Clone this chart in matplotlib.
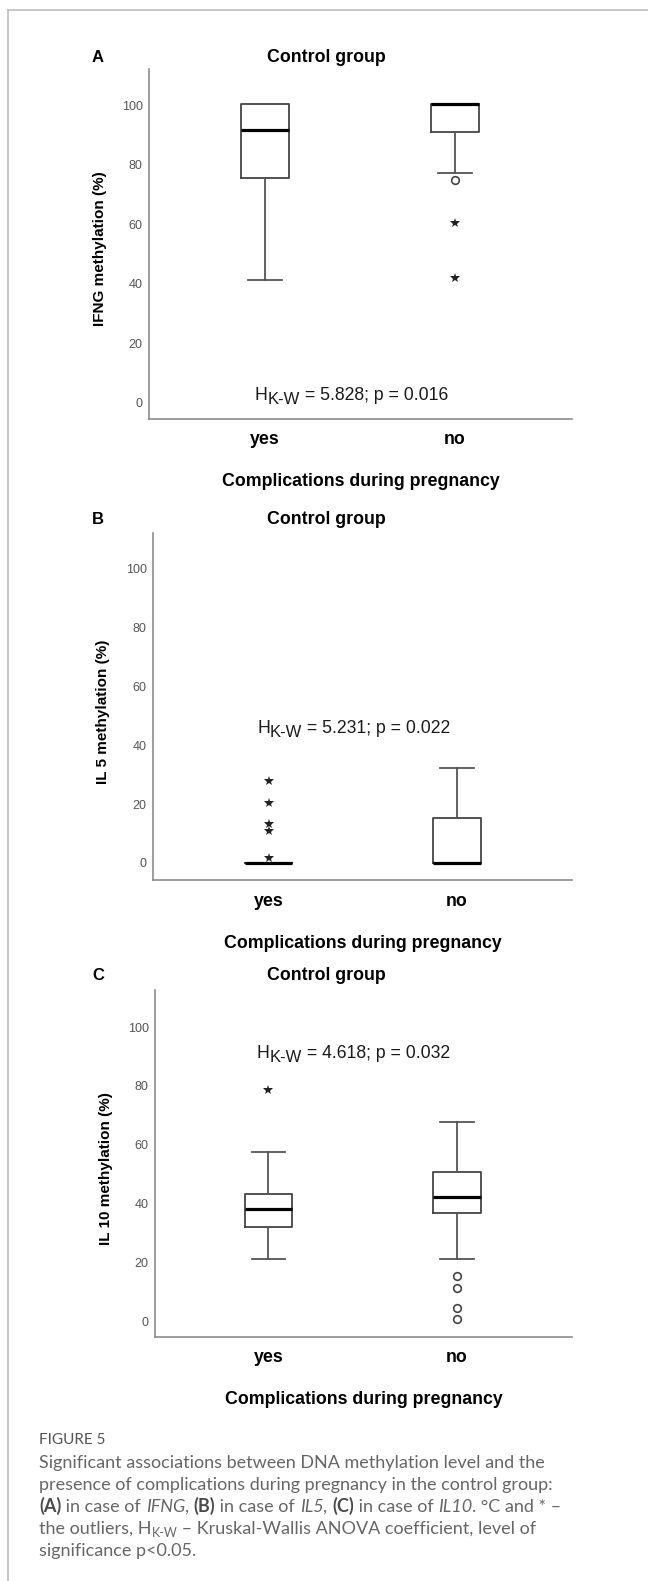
import matplotlib.pyplot as plt
from matplotlib.transforms import IdentityTransform

plt.rcParams['font.family'] = ['Liberation Sans', 'DejaVu Sans']

# ---- data ----
groups = ['yes', 'no']

ifng_whislo = [41.3, 77.2]
ifng_q1 = [75.5, 91.0]
ifng_med = [91.6, 100.3]
ifng_q3 = [100.5, 100.5]
ifng_whishi = [100.5, 100.5]
ifng_circles = [[], [74.8]]
ifng_stars = [[], [60.4, 42.0]]

il5_whislo = [0.0, 0.0]
il5_q1 = [0.0, 0.0]
il5_med = [0.0, 0.0]
il5_q3 = [0.0, 15.3]
il5_whishi = [0.0, 32.3]
il5_circles = [[], []]
il5_stars = [[27.9, 20.3, 13.2, 10.7, 1.6], []]

il10_whislo = [21.1, 21.1]
il10_q1 = [32.0, 36.7]
il10_med = [38.1, 42.2]
il10_q3 = [43.2, 50.7]
il10_whishi = [57.5, 67.7]
il10_circles = [[], [15.3, 11.2, 4.4, 0.7]]
il10_stars = [[78.6], []]

ytick_vals = [0, 20, 40, 60, 80, 100]

W, H = 648, 1581
fig = plt.figure(figsize=(W / 100, H / 100), dpi=100)
renderer = fig.canvas.get_renderer()


def text_w(s, **props):
    t = fig.text(0, 0, s, **props)
    w = t.get_window_extent(renderer).width
    t.remove()
    return w


def seg_w(s, **props):
    return text_w('|' + s + '|', **props) - text_w('||', **props)


def rich(x, y, parts, **common):
    # x, y in pixels from the top-left corner, y is the baseline, dy shifts down
    for s, props, dy in parts:
        kw = dict(common)
        kw.update(props)
        fig.text(x, H - y - dy, s, transform=IdentityTransform(), va='baseline', **kw)
        x += seg_w(s, **kw)


def px_axes(left, right, top, bottom):
    return fig.add_axes([left / W, 1 - bottom / H, (right - left) / W, (bottom - top) / H])


def panel(box, ylim, xlim, stats, circles, stars, ylabel, letter, stat_txt, txt_xy,
          ylab_x, title_y):
    left, right, top, bottom = box
    ax = px_axes(left, right, top, bottom)
    whislo, q1, med, q3, whishi = stats
    bstats = []
    for i, g in enumerate(groups):
        bstats.append(dict(label=g, whislo=whislo[i], q1=q1[i], med=med[i],
                           q3=q3[i], whishi=whishi[i], fliers=[]))
    ax.bxp(bstats, positions=[1, 2], widths=0.25, capwidths=0.18, showfliers=False,
           boxprops=dict(color='#444444', linewidth=1.3),
           whiskerprops=dict(color='#555555', linewidth=1.3),
           capprops=dict(color='#555555', linewidth=1.3),
           medianprops=dict(color='black', linewidth=2.3))
    for i in range(2):
        if circles[i]:
            ax.plot([i + 1] * len(circles[i]), circles[i], 'o', ms=5.5, mfc='white',
                    mec='#444444', mew=1.2, zorder=4)
        if stars[i]:
            ax.plot([i + 1] * len(stars[i]), stars[i], '*', ms=7, color='#222222',
                    mew=0, zorder=4)
    ax.set_xlim(*xlim)
    ax.set_ylim(*ylim)
    ax.set_yticks(ytick_vals)
    ax.tick_params(axis='y', length=0, pad=4.5, labelsize=9, labelcolor='#555555')
    ax.tick_params(axis='x', length=0, pad=9, labelsize=12.8)
    ax.set_xticks([1, 2])
    ax.set_xticklabels(groups, fontweight='bold')
    for s in ['top', 'right']:
        ax.spines[s].set_visible(False)
    for s in ['left', 'bottom']:
        ax.spines[s].set_color('#8c8c8c')
        ax.spines[s].set_linewidth(1.2)
    ax.set_xlabel('Complications during pregnancy', fontsize=12.8, fontweight='bold', labelpad=18)
    # y label
    fig.text(ylab_x / W, 1 - ((top + bottom) / 2 + 5) / H, ylabel, rotation=90,
             ha='center', va='center', fontsize=11, fontweight='bold')
    # panel letter and title
    fig.text(98 / W, 1 - title_y / H, letter, ha='center', va='center',
             fontsize=12, fontweight='bold')
    fig.text(326 / W, 1 - title_y / H, 'Control group', ha='center', va='center',
             fontsize=12.8, fontweight='bold')
    # statistic
    dx, dy = ax.transData.transform(txt_xy)
    rich(dx, H - dy, [('H', {}, 0), ('K-W', {'fontsize': 12}, 4.5), (' = ' + stat_txt, {}, 0)],
         fontsize=12.7, color='#1a1a1a')
    return ax


panel((149, 572, 69, 419), (-5.4, 112.1), (0.389, 2.616),
      (ifng_whislo, ifng_q1, ifng_med, ifng_q3, ifng_whishi), ifng_circles, ifng_stars,
      'IFNG methylation (%)', 'A', '5.828; p = 0.016', (0.947, 1.0), 100, 58)
panel((153, 572, 533, 880), (-5.8, 112.2), (0.387, 2.610),
      (il5_whislo, il5_q1, il5_med, il5_q3, il5_whishi), il5_circles, il5_stars,
      'IL 5 methylation (%)', 'B', '5.231; p = 0.022', (0.939, 44.2), 103, 519)
panel((155, 572, 990, 1337), (-5.4, 112.6), (0.398, 2.610),
      (il10_whislo, il10_q1, il10_med, il10_q3, il10_whishi), il10_circles, il10_stars,
      'IL 10 methylation (%)', 'C', '4.618; p = 0.032', (0.939, 89.5), 106, 975)

# frame around the figure block
fig.add_artist(plt.Line2D([8 / W, 8 / W], [0, 1 - 10 / H], color='#bdbdbd', lw=1.2))
fig.add_artist(plt.Line2D([8 / W, 1], [1 - 10 / H, 1 - 10 / H], color='#bdbdbd', lw=1.2))

# caption
cap = dict(family=['Lato', 'DejaVu Sans'], fontsize=13, color='#666666')
bold = dict(fontweight='bold', color='#4a4a4a')
ital = dict(style='italic')
x0 = 39
fig.text(x0, H - 1444, 'FIGURE 5', transform=IdentityTransform(), va='baseline',
         family=['Lato', 'DejaVu Sans'], fontsize=11, color='#555555')
rich(x0, 1468, [('Significant associations between DNA methylation level and the', {}, 0)], **cap)
rich(x0, 1490, [('presence of complications during pregnancy in the control group:', {}, 0)], **cap)
rich(x0, 1512, [('(A)', bold, 0), (' in case of ', {}, 0), ('IFNG', ital, 0), (', ', {}, 0),
                ('(B)', bold, 0), (' in case of ', {}, 0), ('IL5', ital, 0), (', ', {}, 0),
                ('(C)', bold, 0), (' in case of ', {}, 0), ('IL10', ital, 0),
                ('. \u00b0C and * \u2013', {}, 0)], **cap)
rich(x0, 1534, [('the outliers, H', {}, 0), ('K-W', {'fontsize': 9}, 3),
                (' \u2013 Kruskal-Wallis ANOVA coefficient, level of', {}, 0)], **cap)
rich(x0, 1556, [('significance p<0.05.', {}, 0)], **cap)

fig.savefig('out.png', dpi=100)
